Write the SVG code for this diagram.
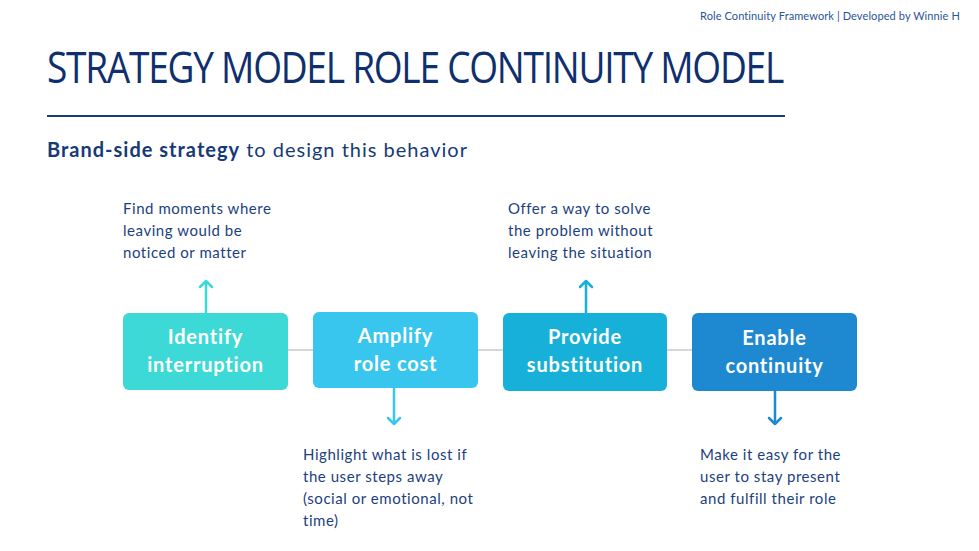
<svg xmlns="http://www.w3.org/2000/svg" width="979" height="551" viewBox="0 0 979 551">
<style>
.hdr{font-family:"Lato","Liberation Sans",sans-serif;font-size:11px;fill:#2a5598;letter-spacing:0.1px}
.title{font-family:"Open Sans","Liberation Sans",sans-serif;font-size:44px;fill:#0f2f6e;letter-spacing:-1.5px}
.sub{font-family:"Lato","Liberation Sans",sans-serif;font-size:20px;fill:#163a78;letter-spacing:1px}
.lbl{font-family:"Lato","Liberation Sans",sans-serif;font-size:20px;font-weight:bold;fill:#ffffff;text-anchor:middle;letter-spacing:0.8px}
.note{font-family:"Lato","Liberation Sans",sans-serif;font-size:15px;fill:#1c3f7e;letter-spacing:0.55px}
.arr{fill:none;stroke-width:2.5;stroke-linecap:round;stroke-linejoin:round}
</style>
<rect width="979" height="551" fill="#ffffff"/>
<text class="hdr" x="700" y="20">Role Continuity Framework | Developed by Winnie H</text>
<text class="title" x="47" y="83" textLength="736" lengthAdjust="spacingAndGlyphs">STRATEGY MODEL ROLE CONTINUITY MODEL</text>
<line x1="47" y1="116" x2="785" y2="116" stroke="#1a3a7a" stroke-width="2"/>
<text class="sub" x="47" y="157"><tspan font-weight="bold">Brand-side strategy</tspan> to design this behavior</text>
<g id="connectors">
<line x1="288" y1="350" x2="692" y2="350" stroke="#d6d6d6" stroke-width="2"/>
<path class="arr" stroke="#3dd9d6" d="M206 313 V281 M200 287 L206 281 L212 287"/>
<path class="arr" stroke="#38c6ee" d="M394 389 V424 M388 418 L394 424 L400 418"/>
<path class="arr" stroke="#17b0d8" d="M586 313 V281 M580 287 L586 281 L592 287"/>
<path class="arr" stroke="#1e88d0" d="M775 391 V424 M769 418 L775 424 L781 418"/>
</g>
<g id="n1">
<rect x="123" y="313" width="165" height="77" rx="6" fill="#3dd9d6"/>
<text class="lbl" x="205.5" y="344">Identify</text>
<text class="lbl" x="205.5" y="372">interruption</text>
</g>
<g id="n2">
<rect x="313" y="312" width="165" height="76" rx="6" fill="#38c6ee"/>
<text class="lbl" x="395.5" y="343">Amplify</text>
<text class="lbl" x="395.5" y="371">role cost</text>
</g>
<g id="n3">
<rect x="503" y="313" width="164" height="78" rx="6" fill="#17b0d8"/>
<text class="lbl" x="585" y="344">Provide</text>
<text class="lbl" x="585" y="372">substitution</text>
</g>
<g id="n4">
<rect x="692" y="313" width="165" height="78" rx="6" fill="#1e88d0"/>
<text class="lbl" x="774.5" y="345">Enable</text>
<text class="lbl" x="774.5" y="373">continuity</text>
</g>
<g id="note1">
<text class="note" x="123" y="214">Find moments where</text>
<text class="note" x="123" y="236">leaving would be</text>
<text class="note" x="123" y="258">noticed or matter</text>
</g>
<g id="note3">
<text class="note" x="508" y="214">Offer a way to solve</text>
<text class="note" x="508" y="236">the problem without</text>
<text class="note" x="508" y="258">leaving the situation</text>
</g>
<g id="note2">
<text class="note" x="303" y="460">Highlight what is lost if</text>
<text class="note" x="303" y="482">the user steps away</text>
<text class="note" x="303" y="504">(social or emotional, not</text>
<text class="note" x="303" y="526">time)</text>
</g>
<g id="note4">
<text class="note" x="700" y="460">Make it easy for the</text>
<text class="note" x="700" y="482">user to stay present</text>
<text class="note" x="700" y="504">and fulfill their role</text>
</g>
</svg>
